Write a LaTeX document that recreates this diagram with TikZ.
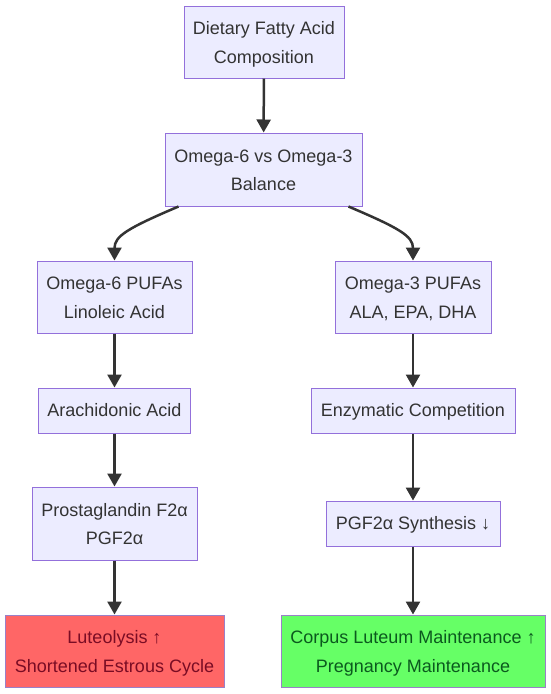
\documentclass[tikz,border=0pt]{standalone}
\usepackage{fontspec}
\setmainfont{Liberation Sans}
\usetikzlibrary{arrows.meta}
\definecolor{nodefill}{HTML}{ECECFF}
\definecolor{nodeborder}{HTML}{9370DB}
\definecolor{txt}{HTML}{333333}
\definecolor{arrowc}{HTML}{333333}
\definecolor{redfill}{HTML}{FF6666}
\definecolor{redtxt}{HTML}{7A0C24}
\definecolor{greenfill}{HTML}{66FF66}
\definecolor{greentxt}{HTML}{0B5A1E}
\definecolor{endborder}{HTML}{9A80C8}
\tikzset{
  box/.style={draw=nodeborder, fill=nodefill, line width=1pt, inner sep=0pt,
    align=center, text=txt, font=\fontsize{18pt}{28.5pt}\selectfont,
    text height=17pt, text depth=5pt},
  twoline/.style={text height=47.5pt, text depth=5pt},
  redbox/.style={box, twoline, draw=endborder, fill=redfill, text=redtxt},
  greenbox/.style={box, twoline, draw=endborder, fill=greenfill, text=greentxt},
  conn/.style={draw=arrowc, line width=2.5pt, -{Triangle[length=13pt,width=14pt]}}
}
\begin{document}
\begin{tikzpicture}[x=1pt,y=-1pt]
\useasboundingbox[fill=white] (0,0) rectangle (550,694);
\node[box, twoline, minimum width=160pt, minimum height=72pt] (n1) at (264,42) {Dietary Fatty Acid\\Composition};
\node[box, twoline, minimum width=197pt, minimum height=73pt] (n2) at (263.5,169.5) {Omega-6 vs Omega-3\\Balance};
\node[box, twoline, minimum width=155pt, minimum height=72pt] (n3) at (114.5,297) {Omega-6 PUFAs\\Linoleic Acid};
\node[box, twoline, minimum width=156pt, minimum height=72pt] (n4) at (413,297) {Omega-3 PUFAs\\ALA, EPA, DHA};
\node[box, minimum width=152pt, minimum height=45pt] (n5) at (114.5,410.5) {Arachidonic Acid};
\node[box, minimum width=204pt, minimum height=45pt] (n6) at (413,410.5) {Enzymatic Competition};
\node[box, twoline, minimum width=165pt, minimum height=73pt] (n7) at (114.5,523.5) {Prostaglandin F2α\\PGF2α};
\node[box, minimum width=174pt, minimum height=45pt] (n8) at (413,523.5) {PGF2α Synthesis ↓};
\node[redbox, minimum width=219pt, minimum height=72pt] (n9) at (114.5,651) {Luteolysis ↑\\Shortened Estrous Cycle};
\node[greenbox, minimum width=264pt, minimum height=72pt] (n10) at (413,651) {Corpus Luteum Maintenance ↑\\Pregnancy Maintenance};
\coordinate (s1) at ([xshift=-85pt]n2.south);
\coordinate (s2) at ([xshift=85pt]n2.south);
\draw[conn] (n1) -- (n2);
\draw[conn] (s1) .. controls (128,228) and (114.5,236) .. (n3.north);
\draw[conn] (s2) .. controls (399,228) and (413,236) .. (n4.north);
\draw[conn] (n3) -- (n5);
\draw[conn] (n5) -- (n7);
\draw[conn] (n7) -- (n9);
\draw[conn] (n4) -- (n6);
\draw[conn] (n6) -- (n8);
\draw[conn] (n8) -- (n10);
\end{tikzpicture}
\end{document}
